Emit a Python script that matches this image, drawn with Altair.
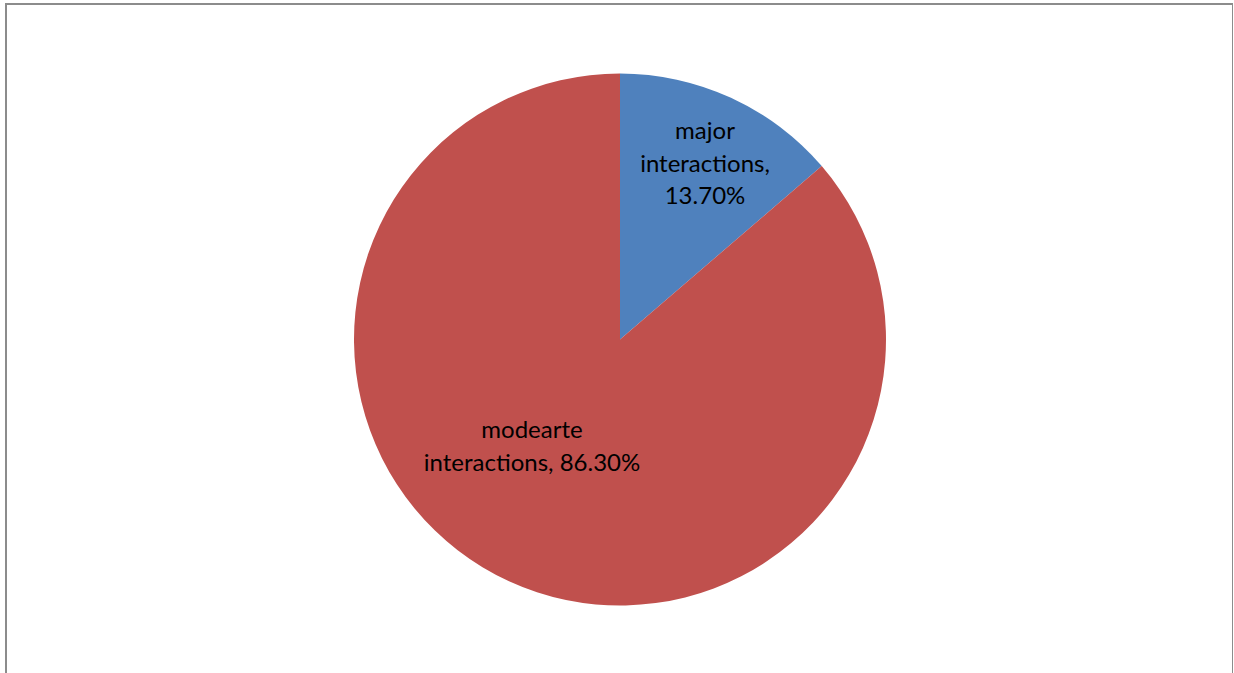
import altair as alt
import pandas as pd

categories = ["major interactions", "modearte interactions"]
shares = [13.70, 86.30]
label_texts = ["major\ninteractions,\n13.70%", "modearte\ninteractions, 86.30%"]
colors = ["#4F81BD", "#C0504D"]

df = pd.DataFrame({
    "category": categories,
    "share": shares,
    "order": [0, 1],
    "label": label_texts,
})

CX, CY, R = 614, 335.5, 266

pie = alt.Chart(df).mark_arc(radius=R, stroke=None).encode(
    theta=alt.Theta("share:Q", stack=True),
    order=alt.Order("order:Q"),
    color=alt.Color("category:N", scale=alt.Scale(domain=categories, range=colors), legend=None),
    x=alt.value(CX),
    y=alt.value(CY),
)

def label(i, x, y):
    return alt.Chart(df).transform_filter(
        alt.datum.category == categories[i]
    ).mark_text(
        font="Lato", fontSize=24, color="#000000", align="center",
        baseline="middle", lineBreak="\n", lineHeight=32.5,
    ).encode(text="label:N", x=alt.value(x), y=alt.value(y))

chart = alt.layer(
    pie,
    label(0, 699, 128),
    label(1, 526, 427),
).properties(
    width=1227, height=720,
    padding={"left": 6, "top": 4, "right": 0, "bottom": 0},
    autosize=alt.AutoSizeParams(type="none"),
    background="#ffffff",
).configure_view(stroke="#8C8C8C", strokeWidth=2)

chart.save("out.html", embed_options={"renderer": "svg", "actions": False})
